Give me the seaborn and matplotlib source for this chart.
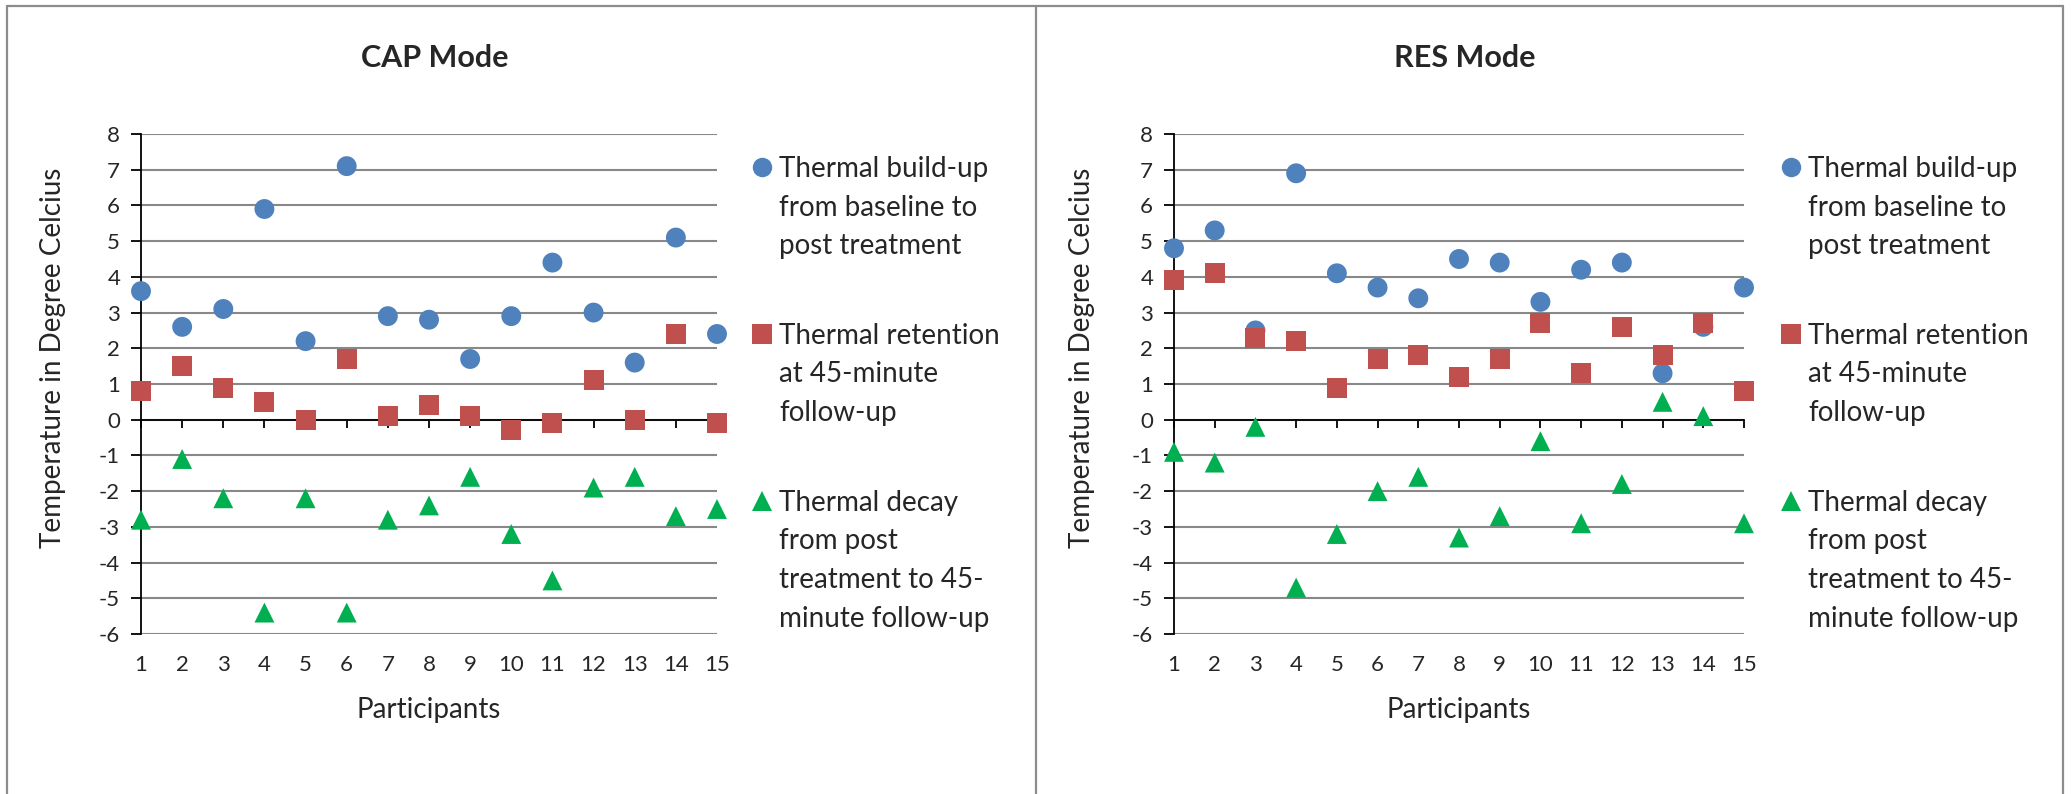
import matplotlib
matplotlib.use("Agg")
import matplotlib.pyplot as plt
from matplotlib.lines import Line2D
import seaborn as sns
import pandas as pd

# ---------------- data ----------------
participants = list(range(1, 16))
series_names = [
    "Thermal build-up from baseline to post treatment",
    "Thermal retention at 45-minute follow-up",
    "Thermal decay from post treatment to 45-minute follow-up",
]
legend_lines = [
    ["Thermal build-up", "from baseline to", "post treatment"],
    ["Thermal retention", "at 45-minute", "follow-up"],
    ["Thermal decay", "from post", "treatment to 45-", "minute follow-up"],
]
panel_titles = ["CAP Mode", "RES Mode"]

cap_buildup = [3.6, 2.6, 3.1, 5.9, 2.2, 7.1, 2.9, 2.8, 1.7, 2.9, 4.4, 3.0, 1.6, 5.1, 2.4]
cap_retention = [0.8, 1.5, 0.9, 0.5, 0.0, 1.7, 0.1, 0.4, 0.1, -0.3, -0.1, 1.1, 0.0, 2.4, -0.1]
cap_decay = [-2.8, -1.1, -2.2, -5.4, -2.2, -5.4, -2.8, -2.4, -1.6, -3.2, -4.5, -1.9, -1.6, -2.7, -2.5]

res_buildup = [4.8, 5.3, 2.5, 6.9, 4.1, 3.7, 3.4, 4.5, 4.4, 3.3, 4.2, 4.4, 1.3, 2.6, 3.7]
res_retention = [3.9, 4.1, 2.3, 2.2, 0.9, 1.7, 1.8, 1.2, 1.7, 2.7, 1.3, 2.6, 1.8, 2.7, 0.8]
res_decay = [-0.9, -1.2, -0.2, -4.7, -3.2, -2.0, -1.6, -3.3, -2.7, -0.6, -2.9, -1.8, 0.5, 0.1, -2.9]

y_ticks = list(range(-6, 9))

colors = ["#4F81BD", "#C0504D", "#00B050"]
markers = ["o", "s", "^"]

# ---------------- style ----------------
sns.set_style("white")
plt.rcParams["font.family"] = ["Lato", "DejaVu Sans"]

W, H = 2071, 794
fig = plt.figure(figsize=(W / 100, H / 100), dpi=100)


def fx(px):
    return px / W


def fy(py):
    return 1 - py / H


panels = [
    (panel_titles[0], [cap_buildup, cap_retention, cap_decay], 141, 717, 0),
    (panel_titles[1], [res_buildup, res_retention, res_decay], 1174, 1744, 1029),
]
top_px, bot_px = 134, 634
grid_color = "#888888"

for title, vals, x0, x1, off in panels:
    ax = fig.add_axes([fx(x0), fy(bot_px), (x1 - x0) / W, (bot_px - top_px) / H])
    rows = []
    for name, v in zip(series_names, vals):
        for p, val in zip(participants, v):
            rows.append({"Participant": p, "Value": val, "Series": name})
    df = pd.DataFrame(rows)
    sns.scatterplot(
        data=df, x="Participant", y="Value", hue="Series", style="Series",
        hue_order=series_names, style_order=series_names,
        palette=dict(zip(series_names, colors)),
        markers=dict(zip(series_names, markers)),
        s=205, linewidth=0, legend=False, ax=ax, clip_on=False, zorder=4,
    )
    ax.set_xlim(1, 15)
    ax.set_ylim(-6, 8)
    ax.set_xlabel("")
    ax.set_ylabel("")
    ax.set_axisbelow(True)
    ax.yaxis.grid(True, color=grid_color, linewidth=1.5)
    ax.xaxis.grid(False)
    for s in ["top", "right"]:
        ax.spines[s].set_visible(False)
    ax.spines["left"].set_color("black")
    ax.spines["left"].set_linewidth(1.3)
    ax.spines["bottom"].set_position(("data", 0))
    ax.spines["bottom"].set_color("black")
    ax.spines["bottom"].set_linewidth(1.3)
    ax.set_yticks(y_ticks)
    ax.set_yticklabels([str(t) for t in y_ticks])
    ax.tick_params(axis="y", direction="out", length=7, width=1.3, color="black",
                   labelsize=16, pad=8, left=True)
    ax.set_xticks(participants)
    ax.tick_params(axis="x", direction="out", length=6, width=1.3, color="black",
                   labelbottom=False, bottom=True)
    sec = ax.secondary_xaxis("bottom")
    sec.set_xticks(participants)
    sec.set_xticklabels([str(p) for p in participants])
    sec.tick_params(length=0, labelsize=16, pad=15)
    sec.spines["bottom"].set_visible(False)

    cx = (x0 + x1) / 2
    fig.text(fx(cx + 6), fy(58), title, ha="center", va="center", fontsize=22,
             fontweight="bold")
    fig.text(fx(cx), fy(710), "Participants", ha="center", va="center", fontsize=20)
    fig.text(fx(53 + off), fy(358), "Temperature in Degree Celcius", rotation=90,
             ha="center", va="center", fontsize=20)

    # legend
    mx = 762 + off
    tx = 779 + off
    marker_y = [167, 334, 501]
    for k, lines in enumerate(legend_lines):
        fig.add_artist(Line2D([fx(mx)], [fy(marker_y[k])], transform=fig.transFigure,
                              marker=markers[k], color=colors[k], markersize=14,
                              markeredgewidth=0, linestyle="none"))
        base = marker_y[k] + 10
        for j, line in enumerate(lines):
            fig.text(fx(tx), fy(base + j * 38.5), line, ha="left", va="baseline",
                     fontsize=20)

# chart frames
frame_kw = dict(transform=fig.transFigure, color="#8c8c8c", linewidth=1.6)
fig.add_artist(Line2D([fx(7), fx(2063)], [fy(6), fy(6)], **frame_kw))
for xv in [7, 1036, 2063]:
    fig.add_artist(Line2D([fx(xv), fx(xv)], [fy(6), fy(800)], **frame_kw))

fig.savefig("out.png", dpi=100, facecolor="white")
